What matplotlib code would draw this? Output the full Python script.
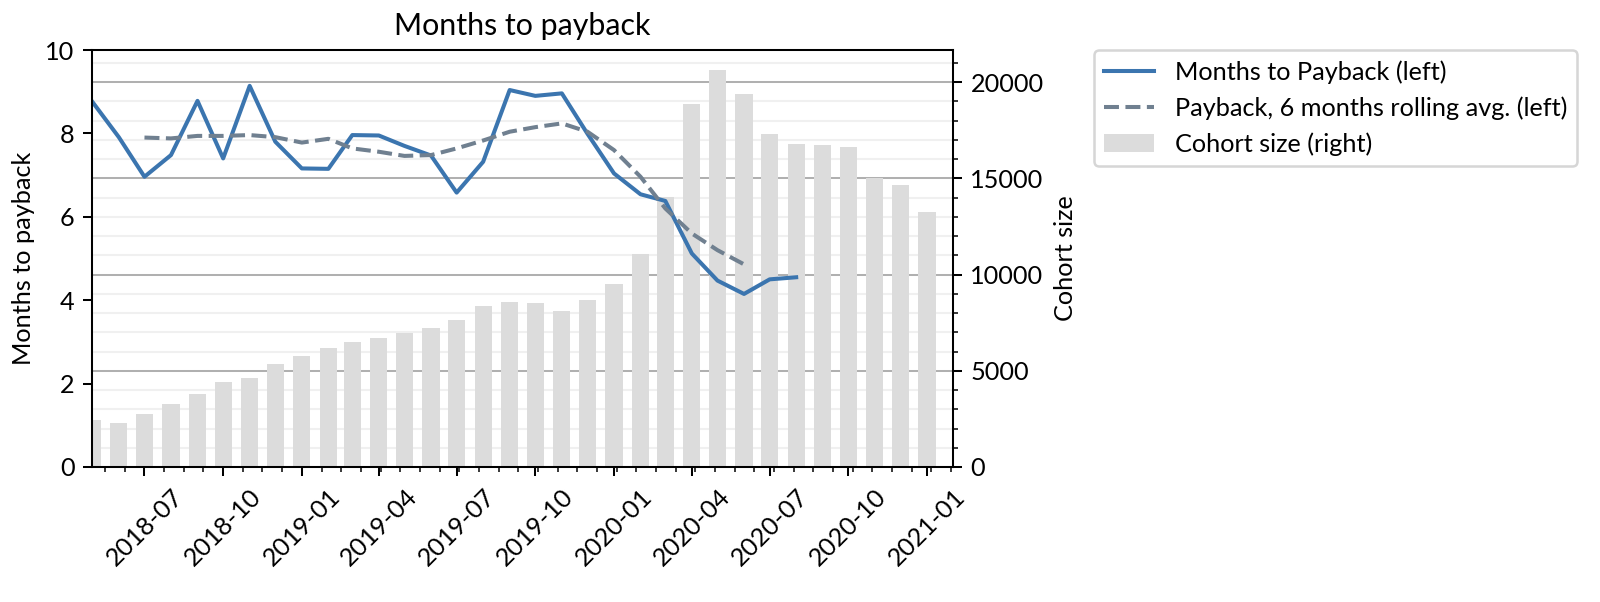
import numpy as np
import pandas as pd
import matplotlib
matplotlib.use("Agg")
import matplotlib.pyplot as plt
import matplotlib.dates as mdates
from matplotlib.ticker import AutoMinorLocator, MultipleLocator

plt.rcParams["font.family"] = ["Lato", "DejaVu Sans"]

# == DATOS ==
months = [
    "2018-05", "2018-06", "2018-07", "2018-08", "2018-09", "2018-10", "2018-11", "2018-12",
    "2019-01", "2019-02", "2019-03", "2019-04", "2019-05", "2019-06", "2019-07", "2019-08",
    "2019-09", "2019-10", "2019-11", "2019-12", "2020-01", "2020-02", "2020-03", "2020-04",
    "2020-05", "2020-06", "2020-07", "2020-08", "2020-09", "2020-10", "2020-11", "2020-12",
    "2021-01",
]
cohort_size = [
    2430, 2300, 2740, 3270, 3810, 4400, 4610, 5370,
    5780, 6200, 6480, 6690, 6960, 7220, 7640, 8380,
    8590, 8540, 8120, 8660, 9510, 11050, 14040, 18840,
    20640, 19410, 17290, 16800, 16750, 16640, 15030, 14670,
    13230,
]
# meses a payback (2018-05 .. 2020-08)
payback = [
    8.76, 7.91, 6.96, 7.48, 8.78, 7.40, 9.14, 7.80,
    7.16, 7.15, 7.96, 7.95, 7.70, 7.47, 6.58, 7.32,
    9.04, 8.90, 8.96, 7.99, 7.04, 6.54, 6.38, 5.12,
    4.47, 4.15, 4.50, 4.55,
]
# media movil (2018-07 .. 2020-06)
payback_avg = [
    7.90, 7.88, 7.94, 7.94, 7.96, 7.91, 7.78, 7.87,
    7.64, 7.56, 7.46, 7.48, 7.64, 7.83, 8.04, 8.15,
    8.24, 8.04, 7.60, 6.96, 6.20, 5.60, 5.20, 4.86,
]

dates = pd.to_datetime(months)
d_payback = dates[: len(payback)]
d_avg = dates[2 : 2 + len(payback_avg)]

# == FIGURA ==
dpi = 182
fig = plt.figure(figsize=(1600 / dpi, 602 / dpi), dpi=dpi)
ax = fig.add_axes([92.3 / 1600, 1 - 467 / 602, (952.7 - 92.3) / 1600, (467 - 50) / 602])
ax2 = ax.twinx()

# barras en el eje derecho
bars = ax2.bar(dates, cohort_size, width=20, color="#dcdcdc", label="Cohort size (right)", zorder=2)
ax2.set_axisbelow(True)
ax2.yaxis.set_minor_locator(AutoMinorLocator(5))
ax2.grid(which="major", axis="y", color="#b0b0b0", linewidth=0.8)
ax2.grid(which="minor", axis="y", color="#f0f0f0", linewidth=0.8)
ax2.set_ylabel("Cohort size")

# lineas en el eje izquierdo
(l1,) = ax.plot(d_payback, payback, color="#3b75af", lw=1.6, label="Months to Payback (left)")
(l2,) = ax.plot(d_avg, payback_avg, "--", color="#708090", lw=1.6,
                label="Payback, 6 months rolling avg. (left)")
ax.set_zorder(ax2.get_zorder() + 1)
ax.patch.set_visible(False)

ax.set_ylim(0, 10)
ax.yaxis.set_major_locator(MultipleLocator(2))
ax.set_ylabel("Months to payback")
ax.set_title("Months to payback")

ax.set_xlim(pd.Timestamp("2018-05-01"), pd.Timestamp("2021-01-31"))
ax.xaxis.set_major_locator(mdates.MonthLocator(bymonth=[1, 4, 7, 10]))
ax.xaxis.set_major_formatter(mdates.DateFormatter("%Y-%m"))
ax.xaxis.set_minor_locator(AutoMinorLocator(4))
for lbl in ax.get_xticklabels():
    lbl.set_rotation(45)

ax.legend([l1, l2, bars[0]], [l1.get_label(), l2.get_label(), "Cohort size (right)"],
          loc="upper left", bbox_to_anchor=(1.164, 1.0), borderaxespad=0)

fig.savefig("out.png", dpi=dpi)
